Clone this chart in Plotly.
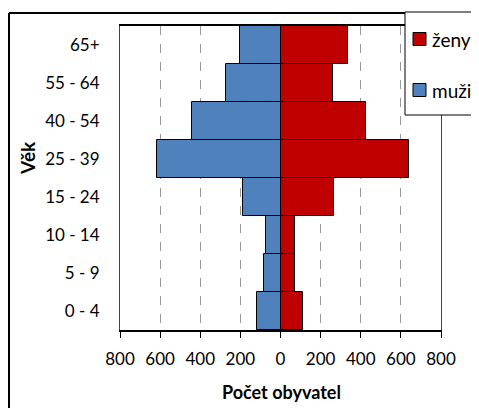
import plotly.graph_objects as go

categories = ["0 - 4", "5 - 9", "10 - 14", "15 - 24", "25 - 39", "40 - 54", "55 - 64", "65+"]
muzi = [118, 83, 71, 188, 615, 442, 274, 203]
zeny = [111, 71, 71, 266, 641, 424, 261, 336]
tick_vals = [-800, -600, -400, -200, 0, 200, 400, 600, 800]
tick_text = ["800", "600", "400", "200", "0", "200", "400", "600", "800"]
legend_names = ["ženy", "muži"]
colors = ["#C00000", "#4F81BD"]

# page body offset (browser default margin)
OFF = 8
W, H = 479 - OFF, 416 - 2 * OFF
# plot area in screen px: x 120..441, y 26..330
L = 120 - OFF
R = W - (441 - OFF)
T = 26 - OFF
B = H - (330 - OFF)
pw, ph = W - L - R, H - T - B


def px(x):
    return (x - OFF - L) / pw


def py(y):
    return (H - B - (y - OFF)) / ph


def seg(x0, y0, x1, y1, width):
    fig.add_shape(type="line", xref="paper", yref="paper",
                  x0=px(x0), y0=py(y0), x1=px(x1), y1=py(y1),
                  line=dict(color="black", width=width), layer="above")


FONT = "Lato"

fig = go.Figure()
fig.add_trace(go.Bar(y=categories, x=zeny, orientation="h", name=legend_names[0],
                     marker=dict(color=colors[0], line=dict(color="black", width=1))))
fig.add_trace(go.Bar(y=categories, x=[-v for v in muzi], orientation="h", name=legend_names[1],
                     marker=dict(color=colors[1], line=dict(color="black", width=1))))

fig.update_layout(
    width=W, height=H,
    barmode="relative", bargap=0,
    margin=dict(l=L, r=R, t=T, b=B, autoexpand=False),
    paper_bgcolor="white", plot_bgcolor="white",
    font=dict(family=FONT, size=17, color="black"),
    showlegend=False,
    xaxis=dict(range=[-800, 800], tickvals=tick_vals, ticktext=tick_text,
               showgrid=True, gridcolor="#999999", griddash="dash", gridwidth=1,
               zeroline=False, showline=True, linecolor="black", linewidth=1.5,
               mirror=True, ticks="outside", ticklen=6, tickcolor="black",
               ticklabelstandoff=7),
    yaxis=dict(showgrid=False, zeroline=False, showline=True, linecolor="#444444",
               linewidth=1, mirror=True, ticks="", ticklabelstandoff=16),
)

# axis titles
fig.add_annotation(text="<b>Počet obyvatel</b>", xref="paper", yref="paper",
                   x=px(281), y=py(392), xanchor="center", yanchor="middle",
                   showarrow=False, font=dict(size=18))
fig.add_annotation(text="<b>Věk</b>", xref="paper", yref="paper",
                   x=px(27), y=py(158), xanchor="center", yanchor="middle",
                   textangle=-90, showarrow=False, font=dict(size=19))

# outer chart frame (left and top edges; the rest is off-page)
seg(9, 13, 490, 13, 2)
seg(9, 13, 9, 430, 2)

# legend box (white background plus left/top/bottom edges)
fig.add_shape(type="rect", xref="paper", yref="paper",
              x0=px(405), x1=px(490), y0=py(12), y1=py(115),
              line=dict(width=0), fillcolor="white", layer="above")
seg(405, 12, 490, 12, 1)
seg(405, 12, 405, 115, 1)
seg(405, 115, 490, 115, 1)

leg_y = [39, 90]
for name, col, yc in zip(legend_names, colors, leg_y):
    fig.add_shape(type="rect", xref="paper", yref="paper",
                  x0=px(413), x1=px(426), y0=py(yc - 6.5), y1=py(yc + 6.5),
                  line=dict(color="black", width=1), fillcolor=col, layer="above")
    fig.add_annotation(text=name, xref="paper", yref="paper",
                       x=px(430), y=py(yc), xanchor="left", yanchor="middle",
                       showarrow=False, font=dict(size=19))

fig.write_html("out.html")
